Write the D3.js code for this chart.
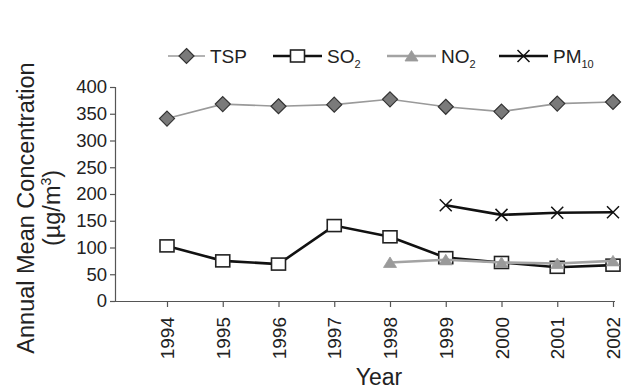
<!DOCTYPE html>
<html><head><meta charset="utf-8">
<script src="https://cdn.jsdelivr.net/npm/d3@7"></script>
<style>body{margin:0;background:#fff}svg{display:block;font-family:"Liberation Sans",Arial,Helvetica,sans-serif}</style>
</head><body><svg id="c" width="628" height="389"></svg>
<script>
const years = ["1994","1995","1996","1997","1998","1999","2000","2001","2002"];
const tsp  = [341, 368, 364, 367, 377, 363, 354, 369, 372];
const so2  = [103, 75, 69, 141, 120, 81, 72, 63, 67];
const no2  = [null, null, null, null, 72, 77, 72, 70, 75];
const pm10 = [null, null, null, null, null, 179, 161, 165, 166];
const yTicks = [0, 50, 100, 150, 200, 250, 300, 350, 400];

const svg = d3.select("#c");
const x = d3.scalePoint().domain(years).range([167, 613]);
const y = d3.scaleLinear().domain([0, 400]).range([301, 87]);
const axisColor = "#555";
const ff = "Liberation Sans, Arial, sans-serif";

// y axis
const ya = svg.append("g").attr("transform", "translate(115,0)")
  .call(d3.axisLeft(y).tickValues(yTicks).tickSize(5).tickPadding(3));
ya.select(".domain").attr("stroke", axisColor).attr("stroke-width", 1.2);
ya.selectAll(".tick line").attr("stroke", axisColor).attr("stroke-width", 1.2);
ya.selectAll("text").attr("font-size", 18.5).attr("fill", "#222").attr("font-family", ff);

// x axis
const xa = svg.append("g").attr("transform", "translate(0,301)")
  .call(d3.axisBottom(x).tickSize(6).tickSizeOuter(0));
xa.select(".domain").attr("d", "M115,0.5H615").attr("stroke", axisColor).attr("stroke-width", 1.2);
xa.selectAll(".tick line").attr("stroke", axisColor).attr("stroke-width", 1.2);
xa.selectAll("text").attr("font-size", 19).attr("fill", "#222")
  .attr("font-family", ff)
  .attr("transform", "rotate(-90)")
  .attr("text-anchor", "end")
  .attr("x", -16).attr("y", 0).attr("dy", "0.35em");

// axis titles
svg.append("text").attr("x", 379).attr("y", 385).attr("text-anchor", "middle")
  .attr("font-size", 23).attr("fill", "#222").text("Year");
const yt = svg.append("text").attr("transform", "translate(34,208) rotate(-90)")
  .attr("text-anchor", "middle").attr("font-size", 23.5).attr("fill", "#222");
yt.append("tspan").attr("x", 0).attr("y", 0).text("Annual Mean Concentration");
const l2 = yt.append("tspan").attr("x", 0).attr("y", 26);
l2.append("tspan").text("(µg/m");
l2.append("tspan").attr("font-size", 14).attr("dy", -9).text("3");
l2.append("tspan").attr("dy", 9).text(")");

// series
const series = [
  {name: "TSP", sub: "", vals: tsp, line: "#9a9a9a", lw: 1.6, marker: "diamond"},
  {name: "SO", sub: "2", vals: so2, line: "#111", lw: 2.6, marker: "square"},
  {name: "NO", sub: "2", vals: no2, line: "#a3a3a3", lw: 2.6, marker: "triangle"},
  {name: "PM", sub: "10", vals: pm10, line: "#111", lw: 2.6, marker: "cross"}
];

function drawMarker(g, type, cx, cy) {
  if (type === "diamond") {
    const r = 7.5;
    g.append("path").attr("d", `M${cx},${cy-r}L${cx+r},${cy}L${cx},${cy+r}L${cx-r},${cy}Z`)
      .attr("fill", "#7a7a7a").attr("stroke", "#333").attr("stroke-width", 1.2);
  } else if (type === "square") {
    g.append("rect").attr("x", cx - 7).attr("y", cy - 6).attr("width", 14).attr("height", 12)
      .attr("fill", "#fff").attr("stroke", "#222").attr("stroke-width", 1.6);
  } else if (type === "triangle") {
    const h = 5.5;
    g.append("path").attr("d", `M${cx},${cy-h}L${cx+6.5},${cy+h-0.5}L${cx-6.5},${cy+h-0.5}Z`)
      .attr("fill", "#9a9a9a").attr("stroke", "#9a9a9a").attr("stroke-width", 0.8);
  } else if (type === "cross") {
    g.append("path").attr("d", `M${cx-6},${cy-6}L${cx+6},${cy+6}M${cx-6},${cy+6}L${cx+6},${cy-6}`)
      .attr("stroke", "#111").attr("stroke-width", 1.5).attr("fill", "none");
  }
}

series.forEach(s => {
  const pts = years.map((yr, i) => ({yr, v: s.vals[i]})).filter(d => d.v != null);
  const g = svg.append("g");
  g.append("path").datum(pts)
    .attr("d", d3.line().x(d => x(d.yr)).y(d => y(d.v)))
    .attr("fill", "none").attr("stroke", s.line).attr("stroke-width", s.lw);
  pts.forEach(d => drawMarker(g, s.marker, x(d.yr), y(d.v)));
});

// legend
const legX = [168, 273, 387, 499];
const legY = 56;
series.forEach((s, i) => {
  const g = svg.append("g");
  const x0 = legX[i], x1 = x0 + (i === 0 ? 37 : 49);
  g.append("line").attr("x1", x0).attr("x2", x1).attr("y1", legY).attr("y2", legY)
    .attr("stroke", s.line).attr("stroke-width", s.lw);
  drawMarker(g, s.marker, (x0 + x1) / 2, legY);
  const t = g.append("text").attr("x", x1 + 5).attr("y", legY + 7)
    .attr("font-size", 19).attr("fill", "#222");
  t.append("tspan").text(s.name);
  if (s.sub) t.append("tspan").attr("font-size", 11).attr("dy", 5).text(s.sub);
});
</script></body></html>
